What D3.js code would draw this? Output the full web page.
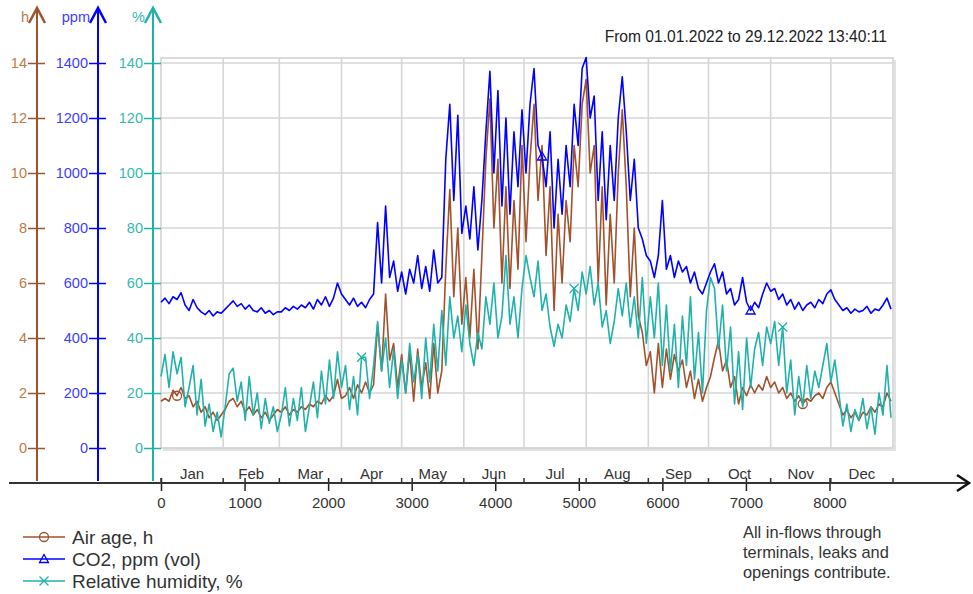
<!DOCTYPE html>
<html lang="en">
<head>
<meta charset="UTF-8">
<title>Air age, CO2 and relative humidity 2022</title>
<script src="https://cdn.jsdelivr.net/npm/d3@7"></script>
<style>
  body { margin: 0; background: #fff; }
  svg { display: block; font-family: "Liberation Sans", Arial, sans-serif; }
</style>
</head>
<body>
<script>
// hours of the year, one value every 48 h
const stepHours = 48;
const months = ["Jan", "Feb", "Mar", "Apr", "May", "Jun", "Jul", "Aug", "Sep", "Oct", "Nov", "Dec"];
const monthHours = [0, 744, 1416, 2160, 2880, 3624, 4344, 5088, 5832, 6552, 7296, 8016, 8760];
const hourTicks = [0, 1000, 2000, 3000, 4000, 5000, 6000, 7000, 8000];
const airAgeTicks = [0, 2, 4, 6, 8, 10, 12, 14];
const co2Ticks = [0, 200, 400, 600, 800, 1000, 1200, 1400];
const humidityTicks = [0, 20, 40, 60, 80, 100, 120, 140];

// Air age, h
const airAge = [
  1.7, 1.8, 1.7, 2.1, 1.9, 2.2, 1.8, 1.9, 1.5, 1.7, 1.3, 1.5, 1.1, 1.3, 1.0, 1.2,
  1.4, 1.7, 1.8, 1.5, 1.7, 1.3, 1.5, 1.2, 1.4, 1.1, 1.3, 1.0, 1.2, 1.4,
  1.3, 1.5, 1.2, 1.4, 1.3, 1.5, 1.4, 1.6, 1.5, 1.7, 1.6, 1.9, 1.7, 1.9, 2.5, 1.8,
  1.9, 2.2, 1.8, 2.3, 2.0, 2.4, 2.0, 2.3, 4.5, 2.8, 5.6, 3.2, 3.8, 2.2, 3.4,
  2.0, 3.5, 1.7, 3.6, 2.2, 3.1, 1.8, 3.8, 2.0, 2.8, 6.5, 9.4, 5.5, 8.0, 4.5, 6.2,
  4.0, 6.5, 3.6, 7.0, 10.5, 12.7, 8.0, 10.5, 6.0, 9.5, 5.8, 9.0, 6.5, 11.0, 7.5,
  10.5, 12.5, 9.0, 11.0, 7.0, 9.5, 5.0, 8.5, 6.0, 9.0, 7.5, 11.0, 9.5, 12.5, 13.4, 10.0,
  11.0, 6.0, 9.5, 5.2, 8.5, 6.0, 10.0, 12.3, 9.5, 5.5, 8.0, 4.8, 4.2, 3.0, 3.5,
  2.0, 3.8, 2.2, 3.6, 2.5, 3.4, 2.8, 3.2, 2.2, 2.8, 1.8, 2.5, 1.7, 2.2, 2.6,
  3.3, 3.9, 2.8, 3.2, 2.2, 2.6, 1.6, 2.2, 1.9, 2.3, 2.0, 2.3, 2.1, 2.6, 2.2, 2.4,
  2.0, 2.2, 1.8, 2.0, 1.7, 1.9, 1.6, 1.8, 1.7, 1.9, 2.0, 1.8, 2.2, 2.4, 2.0,
  1.6, 1.2, 1.4, 1.1, 1.3, 1.0, 1.3, 1.2, 1.5, 1.3, 1.6, 1.5, 2.0, 1.7
];

// CO2, ppm (vol)
const co2 = [
  530, 545, 525, 550, 540, 565, 520, 500, 540, 510, 495, 485, 500, 480, 495, 490,
  505, 520, 535, 515, 525, 505, 520, 500, 495, 510, 490, 500, 485, 495,
  495, 510, 500, 515, 505, 520, 510, 530, 505, 540, 520, 550, 515, 545, 600, 560,
  540, 520, 545, 515, 530, 510, 540, 560, 820, 600, 880, 620, 680, 570, 640,
  560, 650, 600, 700, 580, 660, 570, 720, 600, 620, 1050, 1250, 900, 1210, 780, 880,
  760, 950, 720, 900, 1150, 1370, 1000, 1300, 880, 1200, 850, 1150, 950, 1230, 1000,
  1250, 1380, 1100, 1060, 950, 1150, 800, 1050, 850, 1100, 950, 1250, 1100, 1380, 1420, 1200,
  1280, 900, 1150, 830, 1100, 900, 1200, 1350, 1150, 900, 1050, 800, 760, 700, 680,
  620, 700, 900, 650, 700, 620, 680, 640, 660, 600, 640, 580, 560, 600, 640,
  670, 600, 640, 560, 580, 520, 540, 620, 530, 500, 530, 510, 560, 600, 570, 580,
  540, 560, 520, 540, 505, 530, 500, 520, 530, 510, 540, 525, 560, 575, 540,
  520, 500, 510, 490, 505, 495, 500, 515, 490, 505, 500, 520, 545, 505
];

// Relative humidity, %
const humidity = [
  26, 34, 22, 35, 27, 33, 15, 22, 30, 12, 25, 8, 16, 6, 13, 4,
  15, 27, 29, 17, 24, 10, 26, 12, 20, 7, 18, 9, 15, 6,
  12, 22, 8, 18, 10, 22, 6, 15, 24, 11, 28, 16, 32, 18, 35, 22,
  30, 14, 26, 12, 33, 33, 18, 30, 46, 28, 40, 22, 36, 18, 32,
  20, 38, 24, 34, 18, 40, 24, 45, 28, 50, 30, 55, 40, 48, 35, 52,
  38, 30, 42, 36, 55, 45, 60, 40, 48, 70, 45, 55, 40, 58, 70,
  62, 55, 68, 50, 56, 44, 37, 45, 40, 52, 46, 58, 50, 64, 56, 66,
  52, 60, 44, 50, 38, 46, 58, 48, 60, 44, 55, 40, 62, 38, 55,
  40, 60, 30, 52, 28, 45, 22, 48, 30, 55, 25, 42, 20, 50, 62,
  58, 36, 52, 28, 44, 16, 35, 14, 40, 22, 36, 42, 30, 44, 38, 46,
  30, 44, 20, 32, 12, 26, 15, 30, 18, 28, 22, 30, 38, 24, 32,
  20, 8, 16, 6, 14, 10, 18, 7, 15, 5, 20, 12, 30, 11
];

// indices (in the 48 h arrays) that carry a series marker
const airAgeMarks = [4, 160];
const co2Marks = [95, 147];
const humidityMarks = [50, 103, 155];

const width = 973, height = 594;
const brown = "#A0522D", blue = "#0000FF", teal = "#20B2AA";
const plot = {left: 161, right: 893, top: 58, bottom: 448};
const axisY = 483;

const svg = d3.select("body").append("svg")
  .attr("width", width)
  .attr("height", height);

const x = d3.scaleLinear().domain([0, 8760]).range([plot.left, plot.right]);
const yPct = d3.scaleLinear().domain([0, 140]).range([plot.bottom, 63]);
const yH = d3.scaleLinear().domain([0, 14]).range([plot.bottom, 63]);
const yPpm = d3.scaleLinear().domain([0, 1400]).range([plot.bottom, 63]);

// plot frame with shadow
svg.append("path")
  .attr("d", `M${plot.right + 2},${plot.top + 2}V${plot.bottom + 2}H${plot.left + 2}`)
  .attr("fill", "none").attr("stroke", "#E2E2E2").attr("stroke-width", 2);
svg.append("rect")
  .attr("x", plot.left).attr("y", plot.top)
  .attr("width", plot.right - plot.left).attr("height", plot.bottom - plot.top)
  .attr("fill", "#fff").attr("stroke", "#CFCFCF").attr("stroke-width", 1.5);

// grid
svg.append("g").selectAll("line").data(humidityTicks).join("line")
  .attr("x1", plot.left).attr("x2", plot.right)
  .attr("y1", d => yPct(d)).attr("y2", d => yPct(d))
  .attr("stroke", "#D6D6D6").attr("stroke-width", 1.6);
svg.append("g").selectAll("line").data(monthHours.slice(1, -1)).join("line")
  .attr("x1", d => x(d)).attr("x2", d => x(d))
  .attr("y1", plot.top).attr("y2", plot.bottom)
  .attr("stroke", "#D6D6D6").attr("stroke-width", 1.6);

// vertical axes
const leftAxis = (xPos, scale, ticks, color, textColor, unit) => {
  const g = svg.append("g").attr("transform", `translate(${xPos},0)`);
  g.call(d3.axisLeft(scale).tickValues(ticks).tickSize(9).tickPadding(1).tickFormat(d3.format("d")));
  g.select(".domain").remove();
  g.selectAll(".tick line").attr("x1", 8).attr("x2", -9).attr("stroke", color).attr("stroke-width", 1.5);
  g.selectAll(".tick text").attr("fill", textColor).style("font-size", "14.5px")
    .style("font-family", "'Liberation Sans', Arial, sans-serif");
  g.append("line").attr("x1", 0).attr("x2", 0).attr("y1", 8).attr("y2", axisY - 2)
    .attr("stroke", color).attr("stroke-width", 2);
  g.append("path").attr("d", "M-8,23L0,8L8,23")
    .attr("fill", "none").attr("stroke", color).attr("stroke-width", 2.5);
  g.append("text").attr("x", -8).attr("y", 22).attr("text-anchor", "end")
    .attr("fill", textColor).style("font-size", "14.5px").text(unit);
};
leftAxis(37, yH, airAgeTicks, brown, "#BE7A45", "h");
leftAxis(98, yPpm, co2Ticks, blue, "#3D3DFF", "ppm");
leftAxis(153, yPct, humidityTicks, teal, "#35B8B2", "%");

// horizontal axis
const xg = svg.append("g").attr("transform", `translate(0,${axisY})`);
xg.call(d3.axisBottom(x).tickValues(hourTicks).tickSize(8).tickPadding(6).tickFormat(d3.format("d")));
xg.select(".domain").remove();
xg.selectAll(".tick line").attr("y1", -5).attr("stroke", "#222").attr("stroke-width", 1.5);
xg.selectAll(".tick text").attr("fill", "#333").style("font-size", "15px")
  .style("font-family", "'Liberation Sans', Arial, sans-serif");
xg.append("line").attr("x1", 9).attr("x2", 968).attr("y1", 0).attr("y2", 0)
  .attr("stroke", "#333").attr("stroke-width", 2);
xg.append("path").attr("d", "M957,-8L969,0L957,8")
  .attr("fill", "none").attr("stroke", "#111").attr("stroke-width", 2.5);
xg.append("g").selectAll("line").data(monthHours).join("line")
  .attr("x1", d => x(d)).attr("x2", d => x(d)).attr("y1", -5).attr("y2", 0)
  .attr("stroke", "#333").attr("stroke-width", 1.5);
xg.append("g").selectAll("text").data(months).join("text")
  .attr("x", (d, i) => x((monthHours[i] + monthHours[i + 1]) / 2))
  .attr("y", -4).attr("text-anchor", "middle")
  .attr("fill", "#333").style("font-size", "15px").text(d => d);

// series
const markShape = {
  circle: (g, color) => g.append("circle").attr("r", 4.5).attr("fill", "none").attr("stroke", color).attr("stroke-width", 1.3),
  triangle: (g, color) => g.append("path").attr("d", "M0,-4.5L4.5,3.5H-4.5Z").attr("fill", "none").attr("stroke", color).attr("stroke-width", 1.3),
  cross: (g, color) => g.append("path").attr("d", "M-4.5,-4.5L4.5,4.5M-4.5,4.5L4.5,-4.5").attr("fill", "none").attr("stroke", color).attr("stroke-width", 1.3)
};

const drawSeries = (values, scale, color, marks, shape) => {
  const line = d3.line().x((d, i) => x(i * stepHours)).y(d => scale(d));
  svg.append("path").datum(values)
    .attr("d", line).attr("fill", "none")
    .attr("stroke", color).attr("stroke-width", 1.6).attr("stroke-linejoin", "round");
  marks.forEach(i => {
    const g = svg.append("g").attr("transform", `translate(${x(i * stepHours)},${scale(values[i])})`);
    markShape[shape](g, color);
  });
};
drawSeries(airAge, yH, brown, airAgeMarks, "circle");
drawSeries(co2, yPpm, blue, co2Marks, "triangle");
drawSeries(humidity, yPct, teal, humidityMarks, "cross");

// period
svg.append("text").attr("x", 887).attr("y", 42).attr("text-anchor", "end")
  .attr("fill", "#222").style("font-size", "15.6px")
  .text("From 01.01.2022 to 29.12.2022 13:40:11");

// note
const note = ["All in-flows through", "terminals, leaks and", "openings contribute."];
svg.append("g").selectAll("text").data(note).join("text")
  .attr("x", 743).attr("y", (d, i) => 538 + i * 20)
  .attr("fill", "#333").style("font-size", "16.4px").text(d => d);

// legend
const legend = [
  {name: "Air age, h", color: brown, shape: "circle"},
  {name: "CO2, ppm (vol)", color: blue, shape: "triangle"},
  {name: "Relative humidity, %", color: teal, shape: "cross"}
];
legend.forEach((d, i) => {
  const g = svg.append("g").attr("transform", `translate(0,${537 + i * 22})`);
  g.append("line").attr("x1", 23).attr("x2", 65).attr("stroke", d.color).attr("stroke-width", 1.4);
  markShape[d.shape](g.append("g").attr("transform", "translate(44,0)"), d.color);
  g.append("text").attr("x", 72).attr("y", 7).attr("fill", "#333")
    .style("font-size", "19px").text(d.name);
});
</script>
</body>
</html>
